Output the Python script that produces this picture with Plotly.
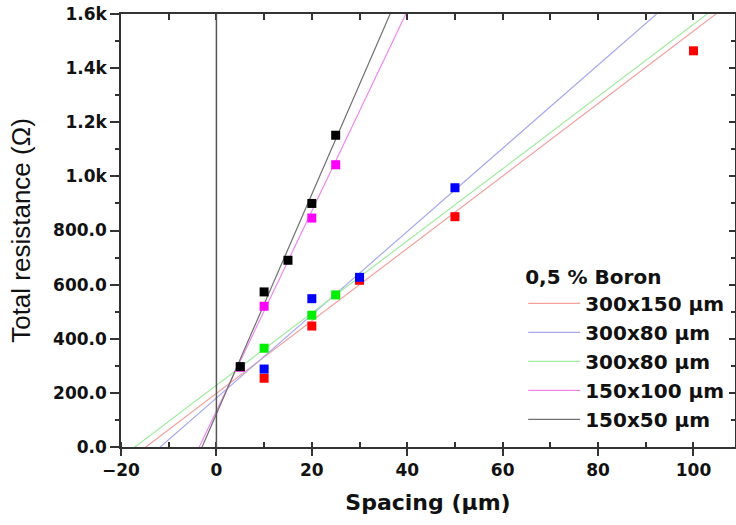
import plotly.graph_objects as go

# ---- data ----
series_names = ["300x150 µm", "300x80 µm", "300x80 µm", "150x100 µm", "150x50 µm"]
marker_colors = ["#ff0000", "#0000ff", "#00ee00", "#ff00ff", "#000000"]
line_colors = ["#f4a0a0", "#a8a8f0", "#a0eca0", "#ee88ee", "#707070"]

red_x = [10, 20, 30, 50, 100]
red_y = [254, 447, 616, 851, 1464]
blue_x = [10, 20, 30, 50]
blue_y = [288, 548, 627, 958]
green_x = [10, 20, 25]
green_y = [365, 487, 562]
magenta_x = [5, 10, 20, 25]
magenta_y = [295, 520, 846, 1043]
black_x = [5, 10, 15, 20, 25]
black_y = [297, 573, 690, 900, 1152]

# linear fit parameters (slope, intercept)
fit_slope = [13.39, 15.38, 13.34, 36.95, 40.6]
fit_intercept = [198, 181, 228, 133, 122]

x_range = [-20, 108.7]
y_range = [0, 1600]
y_tickvals = [0, 200, 400, 600, 800, 1000, 1200, 1400, 1600]
y_ticktext = ["0.0", "200.0", "400.0", "600.0", "800.0", "1.0k", "1.2k", "1.4k", "1.6k"]

xs_all = [red_x, blue_x, green_x, magenta_x, black_x]
ys_all = [red_y, blue_y, green_y, magenta_y, black_y]

WIDE = "DejaVu Sans, Verdana, sans-serif"
ARIAL = "Arial, Liberation Sans, sans-serif"

fig = go.Figure()

# fit lines (legend entries)
for name, lc, m, b in zip(series_names, line_colors, fit_slope, fit_intercept):
    x0 = x_range[0]
    x1 = x_range[1]
    fig.add_trace(go.Scatter(
        x=[x0, x1], y=[m * x0 + b, m * x1 + b], mode="lines",
        line=dict(color=lc, width=1.2), name=name, showlegend=True))

# data markers
for xs, ys, mc in zip(xs_all, ys_all, marker_colors):
    fig.add_trace(go.Scatter(
        x=xs, y=ys, mode="markers",
        marker=dict(symbol="square", size=9, color=mc, line=dict(width=0)),
        showlegend=False))

# invisible traces to activate the mirror axes
fig.add_trace(go.Scatter(x=[None], y=[None], xaxis="x2", yaxis="y", showlegend=False))
fig.add_trace(go.Scatter(x=[None], y=[None], xaxis="x", yaxis="y2", showlegend=False))

# vertical line at x = 0
fig.add_shape(type="line", x0=0, x1=0, y0=0, y1=1, xref="x", yref="paper",
              line=dict(color="#555555", width=1.5))

fig.update_layout(
    width=736, height=525,
    margin=dict(l=121, r=1, t=14, b=78),
    paper_bgcolor="white", plot_bgcolor="white",
    font=dict(family=WIDE, color="#111111"),
    xaxis=dict(
        range=x_range, showgrid=False, zeroline=False, automargin=False,
        showline=True, linecolor="#333333", linewidth=1.5,
        ticks="outside", ticklen=7, tickwidth=1.5, tickcolor="#333333",
        dtick=20, tick0=0,
        minor=dict(ticks="inside", ticklen=5, tickwidth=1.5, tickcolor="#333333", dtick=10, tick0=0),
        tickfont=dict(size=17, family=WIDE, weight="bold", color="#111111"),
        title=dict(text="Spacing (µm)", font=dict(size=22, family=WIDE, weight="bold", color="#111111")),
    ),
    xaxis2=dict(
        overlaying="x", side="top", matches="x", showgrid=False, zeroline=False, automargin=False,
        showline=True, linecolor="#333333", linewidth=1.5,
        ticks="inside", ticklen=6, tickwidth=1.5, tickcolor="#333333",
        dtick=10, tick0=0, showticklabels=False,
    ),
    yaxis=dict(
        range=y_range, showgrid=False, zeroline=False, automargin=False,
        showline=True, linecolor="#333333", linewidth=1.5,
        ticks="outside", ticklen=9, tickwidth=1.5, tickcolor="#333333",
        tickvals=y_tickvals, ticktext=y_ticktext, ticklabeloverflow="allow",
        minor=dict(ticks="outside", ticklen=4, tickwidth=1.5, tickcolor="#333333", dtick=100, tick0=0),
        tickfont=dict(size=17, family=WIDE, weight="bold", color="#111111"),
        title=dict(text="Total resistance (Ω)", font=dict(size=26, family=ARIAL, color="#111111")),
    ),
    yaxis2=dict(
        overlaying="y", side="right", matches="y", showgrid=False, zeroline=False, automargin=False,
        showline=True, linecolor="#333333", linewidth=1.5,
        ticks="inside", ticklen=6, tickwidth=1.5, tickcolor="#333333",
        tickvals=y_tickvals, showticklabels=False,
        minor=dict(ticks="inside", ticklen=4, tickwidth=1.5, tickcolor="#333333", dtick=100, tick0=0),
    ),
    legend=dict(
        x=0.655, y=0.437, xanchor="left", yanchor="top",
        bgcolor="rgba(0,0,0,0)", borderwidth=0,
        title=dict(text="0,5 % Boron", font=dict(size=20, family=WIDE, weight="bold", color="#111111")),
        font=dict(size=20, family=WIDE, weight="bold", color="#111111"),
        tracegroupgap=0, itemwidth=52,
    ),
)

fig.write_html("out.html", config={"displayModeBar": False},
               post_script="document.body.style.margin='0px';")
